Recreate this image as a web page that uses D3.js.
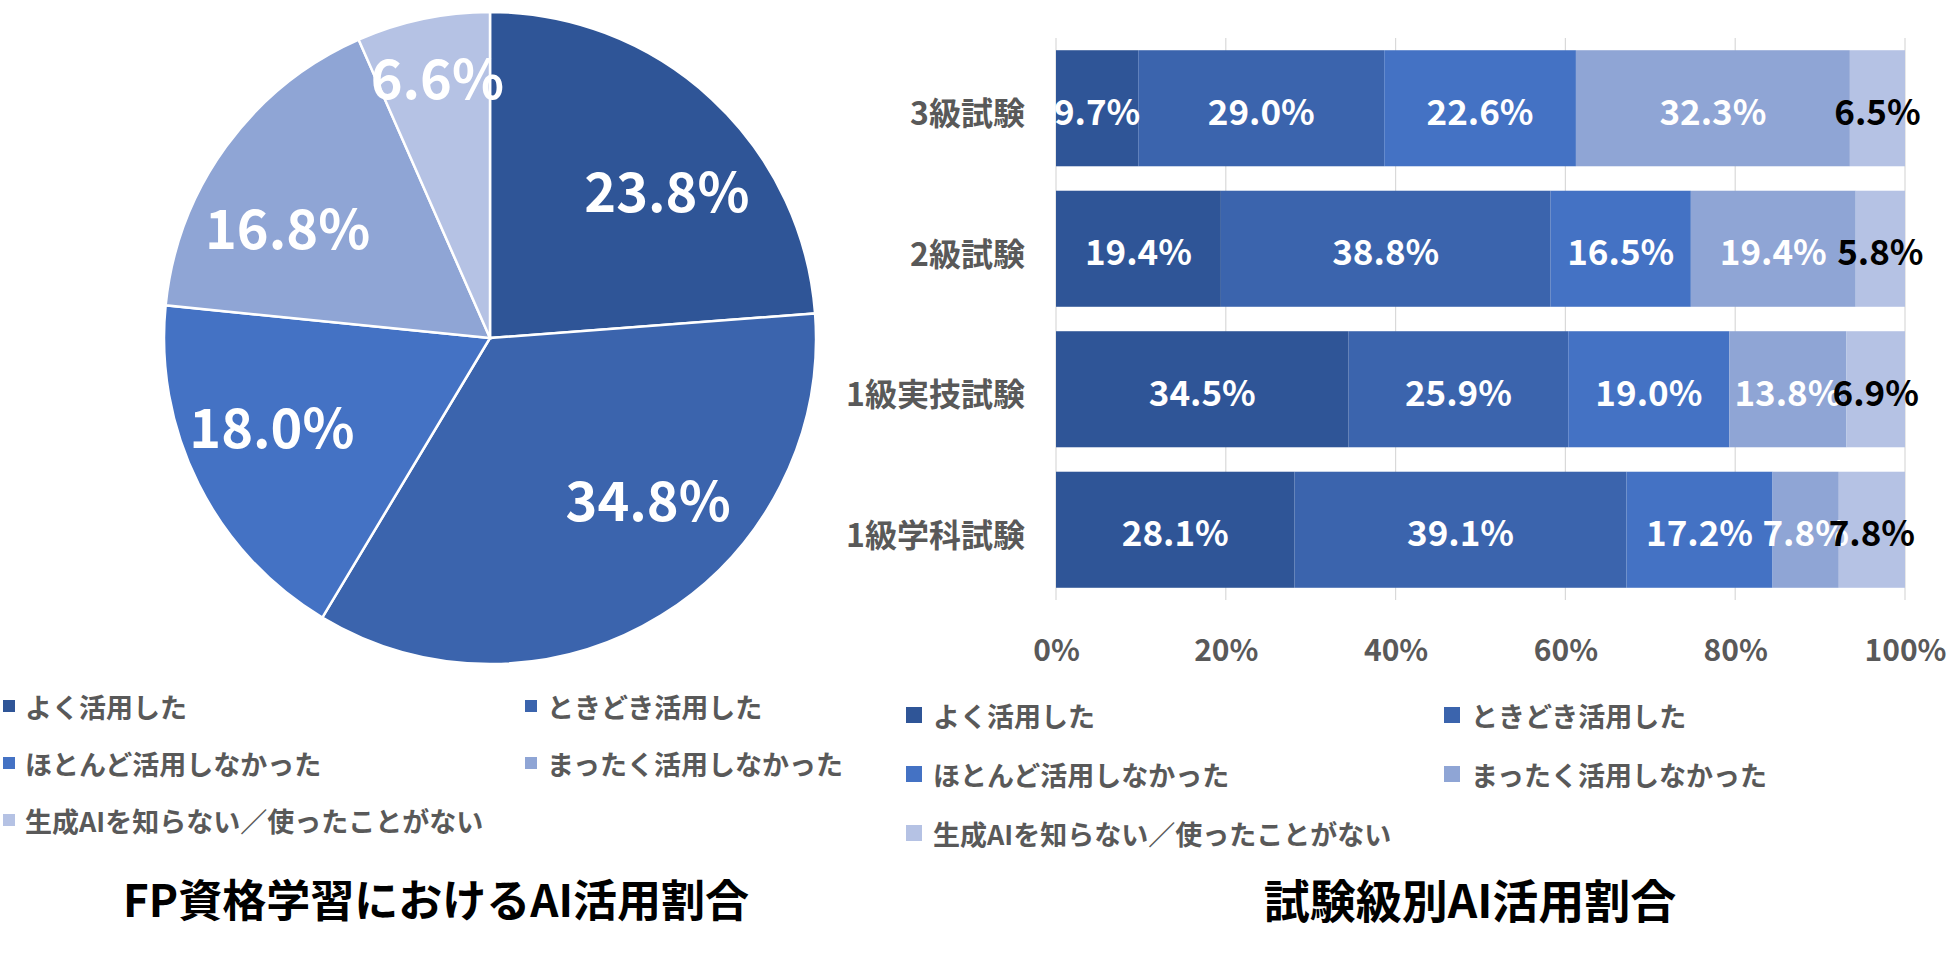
<!DOCTYPE html>
<html><head><meta charset="utf-8">
<script src="https://cdn.jsdelivr.net/npm/d3@7"></script>
<style>
body{margin:0;background:#fff}
svg{display:block}
text{font-family:"Noto Sans CJK JP","Noto Sans",sans-serif}
</style>
</head><body>
<svg id="c" width="1950" height="959"></svg>
<script>
// ---------- data ----------
const seriesNames = ["よく活用した","ときどき活用した","ほとんど活用しなかった","まったく活用しなかった","生成AIを知らない／使ったことがない"];
const pieValues = [23.8, 34.8, 18.0, 16.8, 6.6];
const examCategories = ["3級試験","2級試験","1級実技試験","1級学科試験"];
const seriesYoku      = [9.7, 19.4, 34.5, 28.1];
const seriesTokidoki  = [29.0, 38.8, 25.9, 39.1];
const seriesHotondo   = [22.6, 16.5, 19.0, 17.2];
const seriesMattaku   = [32.3, 19.4, 13.8, 7.8];
const seriesShiranai  = [6.5, 5.8, 6.9, 7.8];
const xTickValues = [0, 20, 40, 60, 80, 100];
const pieTitle = "FP資格学習におけるAI活用割合";
const barTitle = "試験級別AI活用割合";

// ---------- style / layout ----------
const colors = ["#2F5597","#3B64AD","#4472C4","#8FA5D5","#B5C2E4"];
const barLabelColors = ["#fff","#fff","#fff","#fff","#000"];
const pieLabelAngleNudge = [7, -13, 5, -7, 0.5];   // degrees
const pieLabelRadius = [0.71, 0.69, 0.72, 0.71, 0.82];

const svg = d3.select("#c");
svg.append("rect").attr("width",1950).attr("height",959).attr("fill","#fff");

// ---------- pie ----------
const cx = 490, cy = 338, R = 326;
const pie = d3.pie().sort(null).value(d => d);
const arcs = pie(pieValues);
const arc = d3.arc().innerRadius(0).outerRadius(R);
const pg = svg.append("g").attr("transform",`translate(${cx},${cy})`);
pg.selectAll("path").data(arcs).join("path")
  .attr("d", arc).attr("fill",(d,i)=>colors[i])
  .attr("stroke","#fff").attr("stroke-width",2.5);
pg.selectAll("text").data(arcs).join("text")
  .attr("x",(d,i)=>{const a=(d.startAngle+d.endAngle)/2+pieLabelAngleNudge[i]*Math.PI/180;return pieLabelRadius[i]*R*Math.sin(a);})
  .attr("y",(d,i)=>{const a=(d.startAngle+d.endAngle)/2+pieLabelAngleNudge[i]*Math.PI/180;return -pieLabelRadius[i]*R*Math.cos(a);})
  .attr("text-anchor","middle").attr("dominant-baseline","central")
  .attr("fill","#fff").attr("font-size",54).attr("font-weight","bold")
  .text(d => d3.format(".1f")(d.data) + "%");

// legends
function legend(x0, colGap, y0, rowGap, size, fs, gap){
  const g = svg.append("g");
  seriesNames.forEach((n,i)=>{
    const x = x0 + (i%2)*colGap, y = y0 + Math.floor(i/2)*rowGap;
    g.append("rect").attr("x",x).attr("y",y-size/2).attr("width",size).attr("height",size).attr("fill",colors[i]);
    g.append("text").attr("x",x+size+gap).attr("y",y).attr("dominant-baseline","central")
      .attr("font-size",fs).attr("font-weight","bold").attr("fill","#595959").text(n);
  });
}
legend(3, 522, 706, 57, 12, 27, 10);

svg.append("text").attr("x",436).attr("y",898).attr("text-anchor","middle").attr("dominant-baseline","central")
  .attr("font-size",44).attr("font-weight","bold").attr("fill","#000").text(pieTitle);

// ---------- stacked bar ----------
const keys = ["s0","s1","s2","s3","s4"];
const seriesArrays = [seriesYoku, seriesTokidoki, seriesHotondo, seriesMattaku, seriesShiranai];
const table = examCategories.map((c,i)=>{
  const row = {cat:c};
  keys.forEach((k,j)=>row[k]=seriesArrays[j][i]);
  return row;
});
const stacked = d3.stack().keys(keys).offset(d3.stackOffsetExpand)(table);

const x = d3.scaleLinear().domain([0,1]).range([1056,1905]);
const y = d3.scaleBand().domain(examCategories).range([38,600]).paddingInner(0.174).paddingOuter(0.087);

// gridlines
svg.append("g").selectAll("line").data(xTickValues).join("line")
  .attr("x1",d=>x(d/100)).attr("x2",d=>x(d/100)).attr("y1",38).attr("y2",600)
  .attr("stroke","#D9D9D9").attr("stroke-width",1.2);

const bg = svg.append("g");
stacked.forEach((s,j)=>{
  bg.selectAll(null).data(s).join("rect")
    .attr("x",d=>x(d[0])).attr("width",d=>x(d[1])-x(d[0]))
    .attr("y",d=>y(d.data.cat)).attr("height",y.bandwidth())
    .attr("fill",colors[j]);
});
stacked.forEach((s,j)=>{
  bg.selectAll(null).data(s).join("text")
    .attr("x",d=>(x(d[0])+x(d[1]))/2).attr("y",d=>y(d.data.cat)+y.bandwidth()/2+1)
    .attr("text-anchor","middle").attr("dominant-baseline","central")
    .attr("font-size",35).attr("font-weight","bold").attr("fill",barLabelColors[j])
    .text(d=>d3.format(".1f")(d.data[keys[j]])+"%");
});

// axes labels
const xAxis = d3.axisBottom(x).tickValues(xTickValues.map(v=>v/100)).tickFormat(d3.format(".0%")).tickSize(0).tickPadding(0);
const xa = svg.append("g").attr("transform","translate(0,648)").call(xAxis);
xa.select(".domain").remove();
xa.selectAll("text").attr("dy",null).attr("dominant-baseline","central")
  .attr("font-size",30).attr("font-weight","bold").attr("fill","#595959")
  .style("font-family",'"Noto Sans CJK JP","Noto Sans",sans-serif');

const yAxis = d3.axisLeft(y).tickSize(0).tickPadding(0);
const ya = svg.append("g").attr("transform","translate(1025,3)").call(yAxis);
ya.select(".domain").remove();
ya.selectAll("text").attr("dy",null).attr("dominant-baseline","central")
  .attr("font-size",32).attr("font-weight","bold").attr("fill","#595959")
  .style("font-family",'"Noto Sans CJK JP","Noto Sans",sans-serif');

legend(906, 538, 715, 59, 16, 27, 11);

svg.append("text").attr("x",1470).attr("y",898).attr("text-anchor","middle").attr("dominant-baseline","central")
  .attr("font-size",46).attr("font-weight","bold").attr("fill","#000").text(barTitle);
</script>
</body></html>
